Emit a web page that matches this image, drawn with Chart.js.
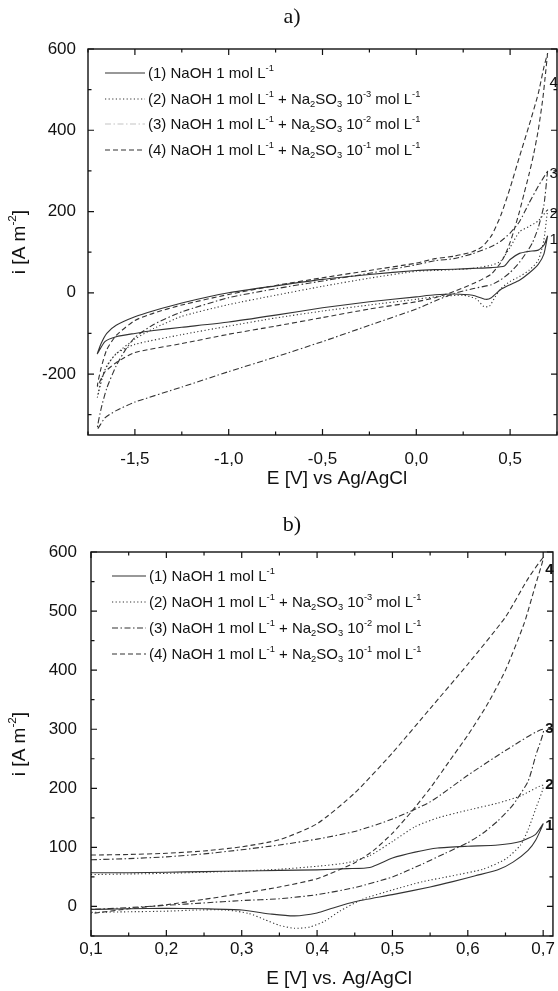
<!DOCTYPE html>
<html>
<head>
<meta charset="utf-8">
<script src="https://cdn.jsdelivr.net/npm/chart.js@4.4.1/dist/chart.umd.min.js"></script>
<style>
  html, body { margin: 0; padding: 0; background: #fff; }
  .panel { position: relative; width: 558px; }
  #wrapA { height: 495px; }
  #wrapB { height: 496px; }
  canvas { display: block; }
</style>
</head>
<body>
<div class="panel" id="wrapA"><canvas id="chartA"></canvas></div>
<div class="panel" id="wrapB"><canvas id="chartB"></canvas></div>
<script>
// panel a) full window, loops start at the anodic vertex
var eA1 = [0.70,0.68,0.65,0.60,0.55,0.50,0.45,0.40,0.37,0.30,0.20,0.10,0.00,-0.25,-0.50,-0.75,-1.00,-1.25,-1.40,-1.50,-1.60,-1.66,-1.70,
           -1.68,-1.65,-1.60,-1.50,-1.40,-1.25,-1.00,-0.75,-0.50,-0.25,0.00,0.10,0.20,0.30,0.40,0.47,0.50,0.55,0.60,0.65,0.68,0.70];
var iA1 = [140,95,70,48,31,20,8,-12,-16,-6,-3,-5,-10,-22,-37,-55,-72,-85,-93,-100,-108,-120,-150,
           -125,-100,-80,-59,-44,-25,0,17,33,45,55,57,58,60,62,66,82,97,102,105,117,140];

var eA2 = [0.70,0.68,0.65,0.60,0.55,0.50,0.45,0.42,0.39,0.36,0.32,0.25,0.10,0.00,-0.25,-0.50,-0.75,-1.00,-1.25,-1.50,-1.60,-1.66,-1.70,
           -1.68,-1.65,-1.60,-1.50,-1.40,-1.25,-1.00,-0.75,-0.50,-0.25,0.00,0.10,0.20,0.30,0.40,0.45,0.50,0.55,0.60,0.65,0.70];
var iA2 = [205,130,80,55,40,28,10,-10,-33,-34,-15,-6,-10,-16,-30,-45,-62,-82,-103,-127,-150,-190,-257,
           -215,-180,-150,-114,-88,-58,-29,-6,16,36,53,55,57,60,68,78,112,150,163,177,205];

var eA3 = [0.70,0.68,0.65,0.62,0.60,0.55,0.50,0.45,0.40,0.30,0.20,0.10,0.00,-0.25,-0.50,-0.75,-1.00,-1.25,-1.50,-1.60,-1.66,-1.70,
           -1.68,-1.65,-1.60,-1.55,-1.50,-1.40,-1.25,-1.00,-0.75,-0.50,-0.25,0.00,0.10,0.20,0.30,0.40,0.45,0.50,0.55,0.60,0.65,0.70];
var iA3 = [300,215,160,124,108,75,50,32,20,10,-2,-20,-40,-80,-120,-158,-194,-232,-269,-290,-308,-335,
           -285,-235,-180,-140,-110,-78,-47,-12,10,29,48,69,79,84,96,114,127,147,175,220,262,300];

var eA4 = [0.70,0.69,0.675,0.65,0.625,0.60,0.575,0.55,0.525,0.50,0.475,0.45,0.40,0.35,0.30,0.20,0.10,0.00,-0.25,-0.50,-0.75,-1.00,-1.25,-1.50,-1.60,-1.66,-1.70,
           -1.68,-1.65,-1.60,-1.50,-1.40,-1.25,-1.00,-0.75,-0.50,-0.25,0.00,0.10,0.20,0.30,0.35,0.40,0.45,0.50,0.55,0.60,0.65,0.68,0.70];
var iA4 = [590,545,480,400,340,290,245,200,160,124,95,74,46,33,22,3,-12,-22,-40,-61,-82,-102,-125,-147,-172,-195,-230,
           -185,-140,-105,-68,-50,-30,-4,18,37,55,73,84,90,101,113,140,190,258,335,410,490,555,590];

// panel b) 0.1 .. 0.7 V, upper branch first then back down
var eB1 = [0.10,0.15,0.20,0.25,0.30,0.35,0.40,0.44,0.47,0.50,0.53,0.56,0.60,0.64,0.67,0.69,0.70,
           0.69,0.68,0.66,0.64,0.61,0.58,0.55,0.50,0.45,0.42,0.40,0.37,0.34,0.30,0.25,0.20,0.15,0.10];
var iB1 = [57,57,58,59,60,61,62,64,66,82,92,99,102,104,110,122,140,
           112,95,75,62,52,42,33,20,8,-3,-11,-16,-13,-6,-4,-3,-4,-5];

var eB2 = [0.10,0.15,0.20,0.25,0.30,0.35,0.40,0.44,0.47,0.50,0.53,0.56,0.60,0.64,0.67,0.70,
           0.69,0.68,0.67,0.65,0.62,0.58,0.54,0.50,0.46,0.43,0.41,0.39,0.37,0.35,0.33,0.31,0.28,0.24,0.20,0.15,0.10];
var iB2 = [54,55,56,58,60,63,68,74,86,110,135,150,163,175,187,205,
           165,130,104,80,63,52,42,28,12,-8,-25,-35,-37,-32,-22,-12,-6,-6,-8,-9,-10];

var eB3 = [0.10,0.15,0.20,0.25,0.30,0.35,0.40,0.45,0.50,0.55,0.60,0.65,0.70,
           0.69,0.68,0.66,0.64,0.62,0.60,0.57,0.54,0.50,0.45,0.40,0.35,0.30,0.25,0.20,0.15,0.10];
var iB3 = [79,81,84,89,96,104,114,127,148,177,222,264,300,
           255,212,172,145,124,108,90,72,50,32,20,13,10,6,2,-2,-5];

var eB4 = [0.10,0.15,0.20,0.25,0.30,0.35,0.40,0.45,0.50,0.55,0.60,0.65,0.68,0.70,
           0.69,0.675,0.65,0.625,0.60,0.575,0.55,0.525,0.50,0.475,0.45,0.40,0.35,0.30,0.25,0.20,0.15,0.10];
var iB4 = [87,88,90,94,101,113,140,192,260,335,410,490,555,590,
           545,480,400,340,290,245,200,160,124,95,74,47,33,22,12,3,-4,-12];

var xTicksA = [-1.5, -1.0, -0.5, 0.0, 0.5];
var yTicksA = [-200, 0, 200, 400, 600];
var xTicksB = [0.1, 0.2, 0.3, 0.4, 0.5, 0.6, 0.7];
var yTicksB = [0, 100, 200, 300, 400, 500, 600];

var curveNames = ['1', '2', '3', '4'];
// legend text: [text, 0 normal | 1 superscript | -1 subscript]
var legendParts = [
  [['(1) NaOH 1 mol L', 0], ['-1', 1]],
  [['(2) NaOH 1 mol L', 0], ['-1', 1], [' + Na', 0], ['2', -1], ['SO', 0], ['3', -1], [' 10', 0], ['-3', 1], [' mol L', 0], ['-1', 1]],
  [['(3) NaOH 1 mol L', 0], ['-1', 1], [' + Na', 0], ['2', -1], ['SO', 0], ['3', -1], [' 10', 0], ['-2', 1], [' mol L', 0], ['-1', 1]],
  [['(4) NaOH 1 mol L', 0], ['-1', 1], [' + Na', 0], ['2', -1], ['SO', 0], ['3', -1], [' 10', 0], ['-1', 1], [' mol L', 0], ['-1', 1]]
];
var yTitleParts = [['i [A m', 0], ['-2', 1], [']', 0]];

var SANS = '"Liberation Sans", Arial, sans-serif';
var INK = '#111';
var dashes = [[], [1.2, 2.4], [6, 2.5, 1.5, 2.5], [5, 3]];

function drawRich(ctx, parts, x, y, size, weight) {
  var cx = x;
  parts.forEach(function (p) {
    var fs = p[1] ? size * 0.62 : size;
    ctx.font = (weight || '') + ' ' + fs + 'px ' + SANS;
    var dy = p[1] === 1 ? -size * 0.36 : (p[1] === -1 ? size * 0.3 : 0);
    ctx.fillText(p[0], cx, y + dy);
    cx += ctx.measureText(p[0]).width;
  });
  return cx - x;
}

function richWidth(ctx, parts, size) {
  var w = 0;
  parts.forEach(function (p) {
    ctx.font = (p[1] ? size * 0.62 : size) + 'px ' + SANS;
    w += ctx.measureText(p[0]).width;
  });
  return w;
}

function minorVals(major, min, max) {
  var step = major[1] - major[0], out = [];
  for (var v = major[0] - step / 2; v <= max + 1e-9; v += step) {
    if (v >= min - 1e-9) out.push(v);
  }
  return out;
}

function framePlugin(cfg) {
  return {
    id: 'frame',
    afterDraw: function (chart) {
      var ctx = chart.ctx, a = chart.chartArea, sx = chart.scales.x, sy = chart.scales.y;
      ctx.save();
      // box
      ctx.strokeStyle = INK;
      ctx.lineWidth = 1.4;
      ctx.setLineDash([]);
      ctx.strokeRect(a.left, a.top, a.right - a.left, a.bottom - a.top);
      // inward ticks on all four sides
      ctx.lineWidth = 1.2;
      function xt(vals, len) {
        vals.forEach(function (v) {
          var p = sx.getPixelForValue(v);
          ctx.beginPath();
          ctx.moveTo(p, a.bottom); ctx.lineTo(p, a.bottom - len);
          ctx.moveTo(p, a.top); ctx.lineTo(p, a.top + len);
          ctx.stroke();
        });
      }
      function yt(vals, len) {
        vals.forEach(function (v) {
          var p = sy.getPixelForValue(v);
          ctx.beginPath();
          ctx.moveTo(a.left, p); ctx.lineTo(a.left + len, p);
          ctx.moveTo(a.right, p); ctx.lineTo(a.right - len, p);
          ctx.stroke();
        });
      }
      xt(cfg.xTicks, 6); xt(minorVals(cfg.xTicks, sx.min, sx.max), 3.5);
      yt(cfg.yTicks, 6); yt(minorVals(cfg.yTicks, sy.min, sy.max), 3.5);

      ctx.fillStyle = INK;
      // panel title
      ctx.font = '22px "Liberation Serif", "Times New Roman", serif';
      ctx.textAlign = 'center';
      ctx.textBaseline = 'middle';
      ctx.fillText(cfg.title, cfg.titleX, cfg.titleY);
      // x axis title
      ctx.font = '19px ' + SANS;
      ctx.fillText(cfg.xTitle, cfg.xTitleX, cfg.xTitleY);
      // y axis title (rotated, with superscript)
      ctx.textAlign = 'left';
      var w = richWidth(ctx, yTitleParts, 19);
      ctx.save();
      ctx.translate(cfg.yTitleX, (a.top + a.bottom) / 2);
      ctx.rotate(-Math.PI / 2);
      drawRich(ctx, yTitleParts, -w / 2, 0, 19);
      ctx.restore();

      // legend
      chart.data.datasets.forEach(function (ds, k) {
        var ry = cfg.legendRows[k];
        ctx.strokeStyle = cfg.legendColors[k];
        ctx.lineWidth = 1.1;
        ctx.setLineDash(ds.borderDash);
        ctx.beginPath();
        ctx.moveTo(cfg.legendX0, ry); ctx.lineTo(cfg.legendX1, ry);
        ctx.stroke();
        ctx.setLineDash([]);
        ctx.fillStyle = INK;
        drawRich(ctx, legendParts[k], cfg.legendTX, ry + 1, 15);
      });

      // curve numbers next to the anodic vertex
      chart.data.datasets.forEach(function (ds, k) {
        var top = ds.data[0];
        ds.data.forEach(function (pt) { if (pt.y > top.y) top = pt; });
        ctx.font = cfg.labelWeight + ' 15px ' + SANS;
        ctx.fillStyle = INK;
        ctx.fillText(curveNames[k], sx.getPixelForValue(top.x) + 2, sy.getPixelForValue(top.y) + cfg.labelDy[k]);
      });
      ctx.restore();
    }
  };
}

function makeChart(id, series, cfg) {
  var datasets = series.map(function (s, k) {
    return {
      label: curveNames[k],
      data: s[0].map(function (v, j) { return { x: v, y: s[1][j] }; }),
      showLine: true,
      borderColor: '#333',
      borderWidth: 1.1,
      borderDash: dashes[k],
      pointRadius: 0,
      tension: 0.2,
      fill: false
    };
  });
  return new Chart(document.getElementById(id), {
    type: 'scatter',
    data: { datasets: datasets },
    options: {
      responsive: true,
      maintainAspectRatio: false,
      animation: false,
      layout: { padding: { top: cfg.padTop, right: 1, left: 0, bottom: 0 } },
      plugins: { legend: { display: false }, tooltip: { enabled: false } },
      scales: {
        x: {
          type: 'linear', min: cfg.xMin, max: cfg.xMax,
          afterBuildTicks: function (s) { s.ticks = cfg.xTicks.map(function (v) { return { value: v }; }); },
          afterFit: function (s) { s.height = cfg.xHeight; },
          grid: { display: false, drawTicks: false },
          border: { display: false },
          ticks: {
            padding: cfg.xPad, color: INK, font: { family: SANS, size: 17 },
            callback: function (v) { return v.toFixed(1).replace('.', ','); }
          }
        },
        y: {
          type: 'linear', min: cfg.yMin, max: cfg.yMax,
          afterBuildTicks: function (s) { s.ticks = cfg.yTicks.map(function (v) { return { value: v }; }); },
          afterFit: function (s) { s.width = cfg.yWidth; },
          grid: { display: false, drawTicks: false },
          border: { display: false },
          ticks: {
            padding: cfg.yPad, color: INK, font: { family: SANS, size: 17 },
            callback: function (v) { return String(v); }
          }
        }
      }
    },
    plugins: [framePlugin(cfg)]
  });
}

makeChart('chartA', [[eA1, iA1], [eA2, iA2], [eA3, iA3], [eA4, iA4]], {
  xMin: -1.75, xMax: 0.75, yMin: -350, yMax: 600,
  xTicks: xTicksA, yTicks: yTicksA,
  padTop: 49, xHeight: 60, yWidth: 88, xPad: 14, yPad: 12,
  title: 'a)', titleX: 292, titleY: 17,
  xTitle: 'E [V] vs Ag/AgCl', xTitleX: 337, xTitleY: 479, yTitleX: 20,
  legendRows: [73, 99, 124, 150], legendX0: 105, legendX1: 145, legendTX: 148,
  legendColors: ['#333', '#333', '#c4c4c4', '#333'],
  labelWeight: '', labelDy: [4, 4, 3, 30]
});

makeChart('chartB', [[eB1, iB1], [eB2, iB2], [eB3, iB3], [eB4, iB4]], {
  xMin: 0.1, xMax: 0.713, yMin: -50, yMax: 600,
  xTicks: xTicksB, yTicks: yTicksB,
  padTop: 57, xHeight: 55, yWidth: 91, xPad: 3, yPad: 14,
  title: 'b)', titleX: 292, titleY: 30,
  xTitle: 'E [V] vs. Ag/AgCl', xTitleX: 339, xTitleY: 484, yTitleX: 20,
  legendRows: [81, 107, 133, 159], legendX0: 112, legendX1: 146, legendTX: 149,
  legendColors: ['#333', '#333', '#333', '#333'],
  labelWeight: 'bold', labelDy: [2, 0, 0, 12]
});
</script>
</body>
</html>
